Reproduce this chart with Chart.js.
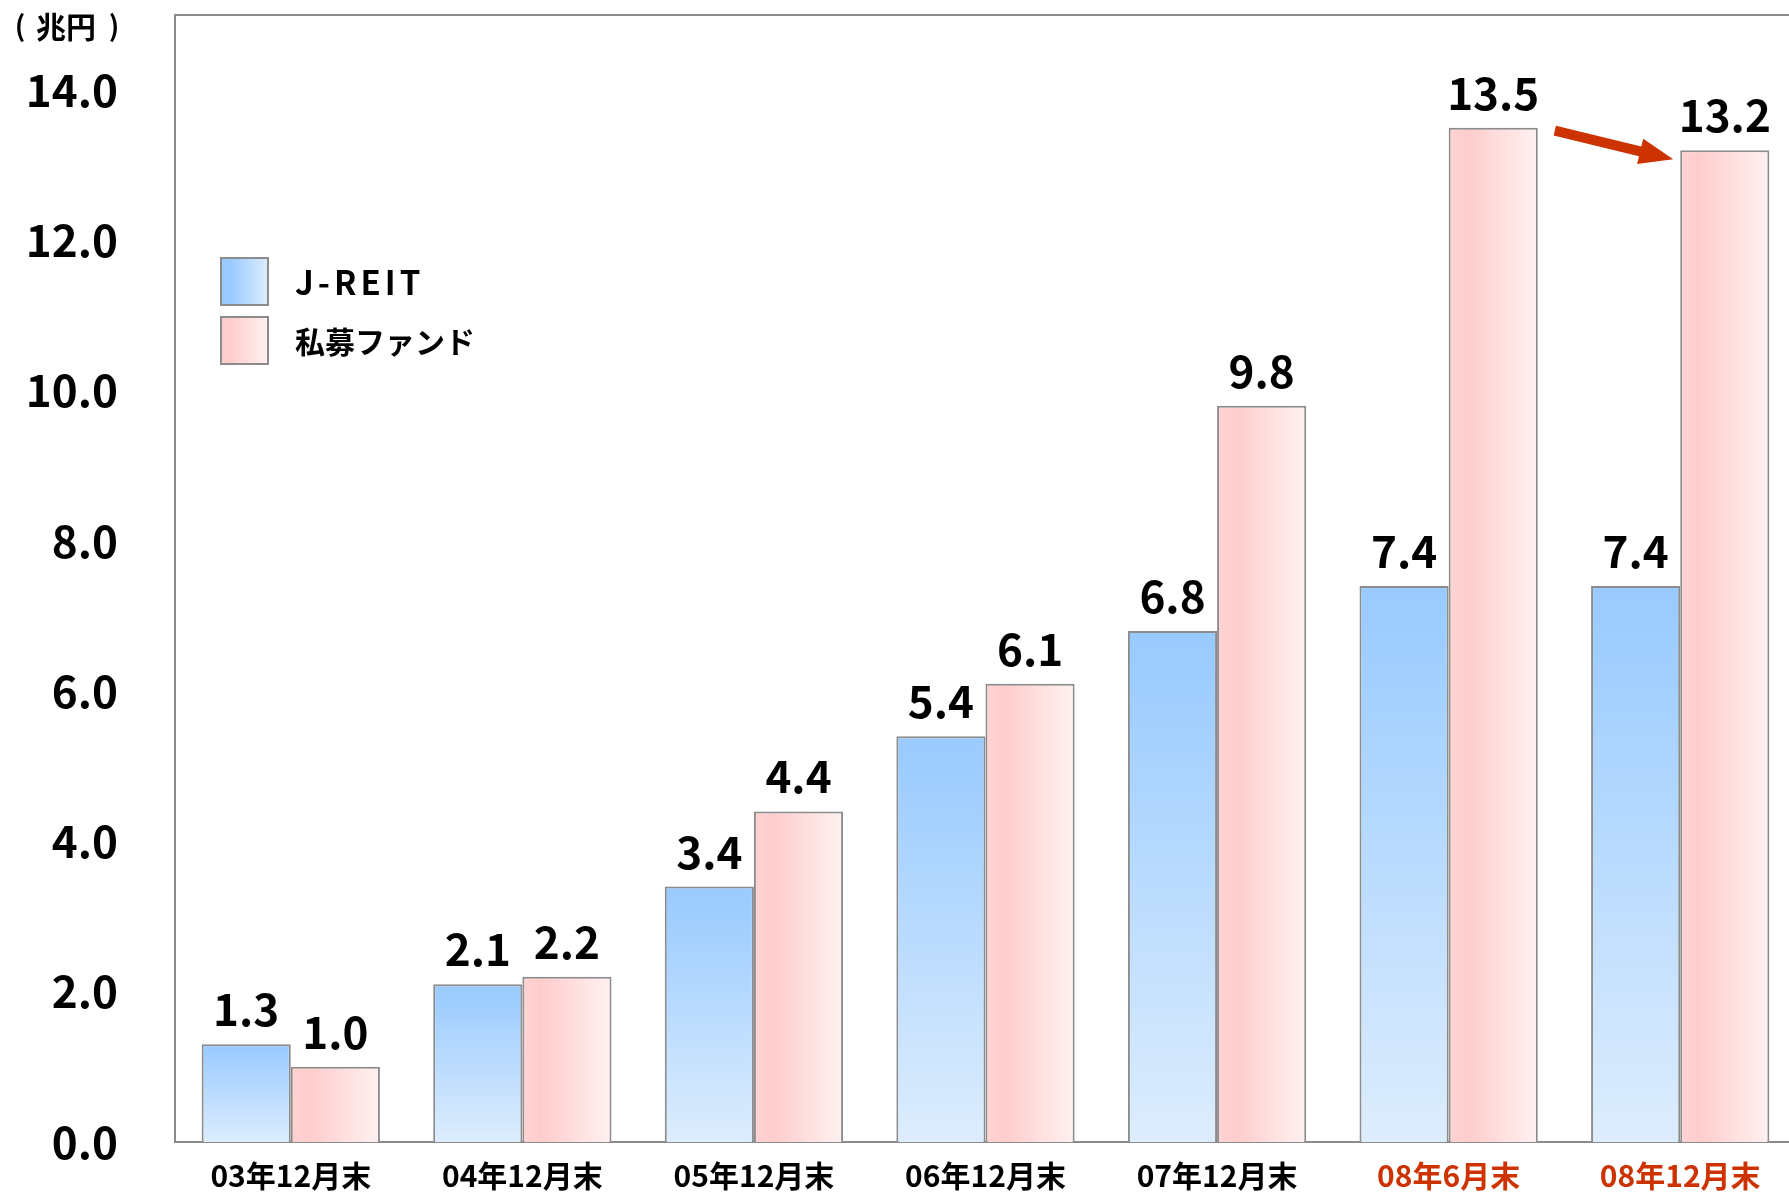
<!DOCTYPE html>
<html>
<head>
<meta charset="utf-8">
<script src="https://cdn.jsdelivr.net/npm/chart.js@4.4.0/dist/chart.umd.min.js"></script>
<style>
  html, body { margin: 0; padding: 0; background: #fff; overflow: hidden; }
  #wrap { width: 1796px; height: 1192px; }
</style>
</head>
<body>
<div id="wrap"><canvas id="reitChart"></canvas></div>
<script>
// data
const categories = ['03年12月末', '04年12月末', '05年12月末', '06年12月末', '07年12月末', '08年6月末', '08年12月末'];
const jreitValues = [1.3, 2.1, 3.4, 5.4, 6.8, 7.4, 7.4];
const privateValues = [1.0, 2.2, 4.4, 6.1, 9.8, 13.5, 13.2];
const seriesNames = ['J-REIT', '私募ファンド'];
const labelColors = ['#000', '#000', '#000', '#000', '#000', '#CC3300', '#CC3300'];
const unitLabel = '兆円';

const FONT = "'Noto Sans CJK JP', 'Noto Sans', sans-serif";
const CAT_PCT = 0.77;

// vertical gradient for each blue bar, from its own top to the baseline
function blueFill(ctx) {
    const chart = ctx.chart;
    const yScale = chart.scales.y;
    if (!yScale || !chart.chartArea) return '#9ECBFF';
    const top = yScale.getPixelForValue(ctx.raw);
    const bottom = yScale.getPixelForValue(0);
    const g = chart.ctx.createLinearGradient(0, top, 0, bottom);
    g.addColorStop(0, '#99CAFF');
    g.addColorStop(0.1, '#9ECDFF');
    g.addColorStop(1, '#DDEDFD');
    return g;
}

// horizontal gradient for each pink bar
function pinkFill(ctx) {
    const chart = ctx.chart;
    const xScale = chart.scales.x;
    if (!xScale || !chart.chartArea) return '#FFD6D6';
    const c = xScale.getPixelForValue(ctx.dataIndex);
    const w = (chart.chartArea.width / categories.length) * CAT_PCT / 2;
    const g = chart.ctx.createLinearGradient(c, 0, c + w, 0);
    g.addColorStop(0, '#FFD4D4');
    g.addColorStop(0.2, '#FFCCCC');
    g.addColorStop(1, '#FFF1F1');
    return g;
}

// drop the label half-height padding so the plot box sits where it should
function noPad(scale) {
    scale.paddingTop = 0;
    scale.paddingBottom = 0;
    scale.paddingLeft = 0;
    scale.paddingRight = 0;
}

// top frame line, unit label, legend, value labels, arrow
const decorPlugin = {
    id: 'decor',
    afterDatasetsDraw(chart) {
        const ctx = chart.ctx;
        const area = chart.chartArea;
        ctx.save();

        // top frame line
        ctx.strokeStyle = '#8c8c8c';
        ctx.lineWidth = 2;
        ctx.beginPath();
        ctx.moveTo(area.left, area.top);
        ctx.lineTo(area.right, area.top);
        ctx.stroke();

        // unit
        ctx.fillStyle = '#000';
        ctx.font = 'bold 30px ' + FONT;
        ctx.textAlign = 'center';
        ctx.textBaseline = 'middle';
        ctx.fillText(unitLabel, 66, 27);
        ctx.font = 'bold 28px ' + FONT;
        ctx.fillText('(', 20, 25);
        ctx.fillText(')', 114, 25);

        // legend
        const sw = [
            ['#99CAFF', '#DDEDFD'],
            ['#FFCCCC', '#FFF1F1']
        ];
        seriesNames.forEach(function(name, i) {
            const bx = 221, by = 258 + i * 59, s = 47;
            const g = ctx.createLinearGradient(bx, 0, bx + s, 0);
            g.addColorStop(0, sw[i][0]);
            g.addColorStop(0.2, sw[i][0]);
            g.addColorStop(1, sw[i][1]);
            ctx.fillStyle = g;
            ctx.fillRect(bx, by, s, s);
            ctx.strokeStyle = '#8c8c8c';
            ctx.lineWidth = 2;
            ctx.strokeRect(bx, by, s, s);
            ctx.fillStyle = '#000';
            ctx.textAlign = 'left';
            ctx.textBaseline = 'middle';
            if (i === 0) {
                ctx.font = 'bold 33px ' + FONT;
                ctx.letterSpacing = '4px';
            } else {
                ctx.font = 'bold 30px ' + FONT;
                ctx.letterSpacing = '0px';
            }
            ctx.fillText(name, 295, by + s / 2 + 1);
        });
        ctx.letterSpacing = '0px';

        // value labels
        ctx.font = 'bold 44px ' + FONT;
        ctx.textAlign = 'center';
        ctx.textBaseline = 'alphabetic';
        ctx.fillStyle = '#000';
        chart.data.datasets.forEach(function(ds, di) {
            chart.getDatasetMeta(di).data.forEach(function(bar, i) {
                ctx.fillText(ds.data[i].toFixed(1), bar.x, bar.y - 18);
            });
        });

        // arrow between the last two private fund bars
        const pm = chart.getDatasetMeta(1).data;
        const a = pm[pm.length - 2], b = pm[pm.length - 1];
        const x0 = a.x + a.width / 2 + 17, y0 = a.y + 3;
        const x1 = b.x - b.width / 2 - 7, y1 = b.y + 9;
        const ang = Math.atan2(y1 - y0, x1 - x0);
        const headLen = 34, headW = 13, shaft = 5;
        const len = Math.hypot(x1 - x0, y1 - y0);
        ctx.translate(x0, y0);
        ctx.rotate(ang);
        ctx.fillStyle = '#CC3300';
        ctx.beginPath();
        ctx.moveTo(0, -shaft);
        ctx.lineTo(len - headLen, -shaft);
        ctx.lineTo(len - headLen, -headW);
        ctx.lineTo(len, 0);
        ctx.lineTo(len - headLen, headW);
        ctx.lineTo(len - headLen, shaft);
        ctx.lineTo(0, shaft);
        ctx.closePath();
        ctx.fill();

        ctx.restore();
    }
};

document.addEventListener('DOMContentLoaded', function() {
    const ctx = document.getElementById('reitChart').getContext('2d');
    new Chart(ctx, {
        type: 'bar',
        data: {
            labels: categories,
            datasets: [{
                label: seriesNames[0],
                data: jreitValues,
                backgroundColor: blueFill,
                borderColor: '#8c8c8c',
                borderWidth: 2,
                categoryPercentage: CAT_PCT,
                barPercentage: 1
            }, {
                label: seriesNames[1],
                data: privateValues,
                backgroundColor: pinkFill,
                borderColor: '#8c8c8c',
                borderWidth: 2,
                categoryPercentage: CAT_PCT,
                barPercentage: 1
            }]
        },
        options: {
            responsive: true,
            maintainAspectRatio: false,
            animation: false,
            layout: { padding: { top: 15, left: 0, right: 0, bottom: 0 } },
            plugins: {
                legend: { display: false },
                tooltip: { enabled: false }
            },
            scales: {
                x: {
                    grid: { display: false, drawTicks: false },
                    border: { color: '#8c8c8c', width: 2 },
                    ticks: {
                        padding: 16,
                        color: function(c) { return labelColors[c.index]; },
                        font: { family: FONT, size: 30, weight: 'bold' },
                        maxRotation: 0,
                        autoSkip: false
                    },
                    afterFit: function(scale) { scale.height = 50; noPad(scale); }
                },
                y: {
                    min: 0,
                    max: 15,
                    grid: { display: false, drawTicks: false },
                    border: { color: '#8c8c8c', width: 2 },
                    ticks: {
                        stepSize: 2,
                        padding: 57,
                        color: '#000',
                        font: { family: FONT, size: 44, weight: 'bold' },
                        callback: function(v) { return v > 14 ? '' : v.toFixed(1); }
                    },
                    afterFit: function(scale) { scale.width = 175; noPad(scale); }
                }
            }
        },
        plugins: [decorPlugin]
    });
});
</script>
</body>
</html>
